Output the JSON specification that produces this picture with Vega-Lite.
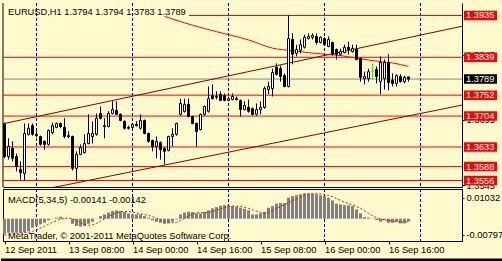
{
"$schema":"https://vega.github.io/schema/vega-lite/v6.json",
"padding":{"left":0,"top":2,"right":0,"bottom":0},
"background":"#FFFACD",
"bounds":"flush",
"spacing":2,
"config":{"font":"Liberation Sans","view":{"stroke":"black","strokeWidth":1},"scale":{"continuousPadding":0},"axis":{"labelFont":"Liberation Sans","labelFontSize":9.3,"labelColor":"black","domainColor":"black","tickColor":"black","grid":false,"title":null}},
"datasets":{
"bars":[
{"t":"2011-09-12T16:00Z","o":1.3685,"h":1.3689,"l":1.3607,"c":1.3611,"m":-0.0074,"s":-0.0080},
{"t":"2011-09-12T17:00Z","o":1.3611,"h":1.3653,"l":1.3604,"c":1.3634,"m":-0.0069,"s":-0.0078},
{"t":"2011-09-12T18:00Z","o":1.3630,"h":1.3646,"l":1.3600,"c":1.3607,"m":-0.0069,"s":-0.0075},
{"t":"2011-09-12T19:00Z","o":1.3611,"h":1.3618,"l":1.3577,"c":1.3588,"m":-0.0069,"s":-0.0072},
{"t":"2011-09-12T20:00Z","o":1.3581,"h":1.3600,"l":1.3558,"c":1.3574,"m":-0.0069,"s":-0.0070},
{"t":"2011-09-12T21:00Z","o":1.3572,"h":1.3687,"l":1.3556,"c":1.3664,"m":-0.0066,"s":-0.0068},
{"t":"2011-09-12T22:00Z","o":1.3662,"h":1.3687,"l":1.3659,"c":1.3676,"m":-0.0061,"s":-0.0067},
{"t":"2011-09-12T23:00Z","o":1.3682,"h":1.3687,"l":1.3659,"c":1.3662,"m":-0.0044,"s":-0.0062},
{"t":"2011-09-13T00:00Z","o":1.3662,"h":1.3669,"l":1.3655,"c":1.3659,"m":-0.0036,"s":-0.0055},
{"t":"2011-09-13T01:00Z","o":1.3657,"h":1.3659,"l":1.3636,"c":1.3639,"m":-0.0028,"s":-0.0046},
{"t":"2011-09-13T02:00Z","o":1.3646,"h":1.3648,"l":1.3627,"c":1.3639,"m":-0.0020,"s":-0.0038},
{"t":"2011-09-13T03:00Z","o":1.3639,"h":1.3673,"l":1.3636,"c":1.3671,"m":-0.0008,"s":-0.0027},
{"t":"2011-09-13T04:00Z","o":1.3666,"h":1.3689,"l":1.3662,"c":1.3682,"m":0.0001,"s":-0.0018},
{"t":"2011-09-13T05:00Z","o":1.3678,"h":1.3689,"l":1.3676,"c":1.3687,"m":0.0005,"s":-0.0010},
{"t":"2011-09-13T06:00Z","o":1.3687,"h":1.3689,"l":1.3676,"c":1.3680,"m":0.0010,"s":-0.0002},
{"t":"2011-09-13T07:00Z","o":1.3678,"h":1.3699,"l":1.3653,"c":1.3657,"m":0.0002,"s":0.0002},
{"t":"2011-09-13T08:00Z","o":1.3659,"h":1.3669,"l":1.3653,"c":1.3657,"m":0.0001,"s":0.0004},
{"t":"2011-09-13T09:00Z","o":1.3657,"h":1.3659,"l":1.3579,"c":1.3584,"m":-0.0025,"s":-0.0001},
{"t":"2011-09-13T10:00Z","o":1.3584,"h":1.3623,"l":1.3556,"c":1.3616,"m":-0.0036,"s":-0.0010},
{"t":"2011-09-13T11:00Z","o":1.3616,"h":1.3639,"l":1.3614,"c":1.3632,"m":-0.0039,"s":-0.0019},
{"t":"2011-09-13T12:00Z","o":1.3620,"h":1.3662,"l":1.3618,"c":1.3641,"m":-0.0036,"s":-0.0027},
{"t":"2011-09-13T13:00Z","o":1.3641,"h":1.3708,"l":1.3639,"c":1.3664,"m":-0.0025,"s":-0.0032},
{"t":"2011-09-13T14:00Z","o":1.3657,"h":1.3692,"l":1.3641,"c":1.3664,"m":-0.0015,"s":-0.0030},
{"t":"2011-09-13T15:00Z","o":1.3662,"h":1.3710,"l":1.3659,"c":1.3699,"m":0.0001,"s":-0.0023},
{"t":"2011-09-13T16:00Z","o":1.3710,"h":1.3726,"l":1.3696,"c":1.3699,"m":0.0013,"s":-0.0012},
{"t":"2011-09-13T17:00Z","o":1.3682,"h":1.3699,"l":1.3653,"c":1.3680,"m":0.0021,"s":-0.0001},
{"t":"2011-09-13T18:00Z","o":1.3680,"h":1.3715,"l":1.3678,"c":1.3710,"m":0.0030,"s":0.0010},
{"t":"2011-09-13T19:00Z","o":1.3710,"h":1.3738,"l":1.3708,"c":1.3719,"m":0.0038,"s":0.0021},
{"t":"2011-09-13T20:00Z","o":1.3717,"h":1.3738,"l":1.3708,"c":1.3708,"m":0.0041,"s":0.0029},
{"t":"2011-09-13T21:00Z","o":1.3708,"h":1.3710,"l":1.3692,"c":1.3694,"m":0.0038,"s":0.0034},
{"t":"2011-09-13T22:00Z","o":1.3692,"h":1.3694,"l":1.3673,"c":1.3676,"m":0.0033,"s":0.0036},
{"t":"2011-09-13T23:00Z","o":1.3678,"h":1.3682,"l":1.3673,"c":1.3676,"m":0.0026,"s":0.0035},
{"t":"2011-09-14T00:00Z","o":1.3678,"h":1.3689,"l":1.3676,"c":1.3685,"m":0.0021,"s":0.0032},
{"t":"2011-09-14T01:00Z","o":1.3685,"h":1.3692,"l":1.3680,"c":1.3682,"m":0.0021,"s":0.0028},
{"t":"2011-09-14T02:00Z","o":1.3676,"h":1.3708,"l":1.3673,"c":1.3694,"m":0.0021,"s":0.0024},
{"t":"2011-09-14T03:00Z","o":1.3694,"h":1.3696,"l":1.3662,"c":1.3664,"m":0.0013,"s":0.0020},
{"t":"2011-09-14T04:00Z","o":1.3664,"h":1.3666,"l":1.3643,"c":1.3646,"m":0.0005,"s":0.0016},
{"t":"2011-09-14T05:00Z","o":1.3648,"h":1.3650,"l":1.3623,"c":1.3634,"m":-0.0008,"s":0.0010},
{"t":"2011-09-14T06:00Z","o":1.3634,"h":1.3657,"l":1.3607,"c":1.3646,"m":-0.0015,"s":0.0003},
{"t":"2011-09-14T07:00Z","o":1.3643,"h":1.3646,"l":1.3604,"c":1.3627,"m":-0.0020,"s":-0.0005},
{"t":"2011-09-14T08:00Z","o":1.3630,"h":1.3632,"l":1.3593,"c":1.3623,"m":-0.0025,"s":-0.0013},
{"t":"2011-09-14T09:00Z","o":1.3625,"h":1.3659,"l":1.3623,"c":1.3657,"m":-0.0023,"s":-0.0018},
{"t":"2011-09-14T10:00Z","o":1.3657,"h":1.3676,"l":1.3634,"c":1.3662,"m":-0.0015,"s":-0.0020},
{"t":"2011-09-14T11:00Z","o":1.3662,"h":1.3689,"l":1.3659,"c":1.3687,"m":-0.0003,"s":-0.0017},
{"t":"2011-09-14T12:00Z","o":1.3708,"h":1.3744,"l":1.3705,"c":1.3733,"m":0.0021,"s":-0.0009},
{"t":"2011-09-14T13:00Z","o":1.3715,"h":1.3744,"l":1.3712,"c":1.3731,"m":0.0030,"s":0.0002},
{"t":"2011-09-14T14:00Z","o":1.3731,"h":1.3744,"l":1.3701,"c":1.3703,"m":0.0034,"s":0.0013},
{"t":"2011-09-14T15:00Z","o":1.3703,"h":1.3705,"l":1.3685,"c":1.3687,"m":0.0033,"s":0.0023},
{"t":"2011-09-14T16:00Z","o":1.3687,"h":1.3689,"l":1.3634,"c":1.3669,"m":0.0026,"s":0.0029},
{"t":"2011-09-14T17:00Z","o":1.3673,"h":1.3710,"l":1.3671,"c":1.3708,"m":0.0026,"s":0.0030},
{"t":"2011-09-14T18:00Z","o":1.3708,"h":1.3728,"l":1.3705,"c":1.3726,"m":0.0033,"s":0.0030},
{"t":"2011-09-14T19:00Z","o":1.3715,"h":1.3772,"l":1.3712,"c":1.3744,"m":0.0041,"s":0.0031},
{"t":"2011-09-14T20:00Z","o":1.3751,"h":1.3777,"l":1.3742,"c":1.3744,"m":0.0051,"s":0.0035},
{"t":"2011-09-14T21:00Z","o":1.3747,"h":1.3761,"l":1.3742,"c":1.3749,"m":0.0057,"s":0.0042},
{"t":"2011-09-14T22:00Z","o":1.3754,"h":1.3761,"l":1.3738,"c":1.3740,"m":0.0064,"s":0.0049},
{"t":"2011-09-14T23:00Z","o":1.3751,"h":1.3756,"l":1.3738,"c":1.3740,"m":0.0067,"s":0.0055},
{"t":"2011-09-15T00:00Z","o":1.3740,"h":1.3749,"l":1.3738,"c":1.3744,"m":0.0066,"s":0.0060},
{"t":"2011-09-15T01:00Z","o":1.3742,"h":1.3756,"l":1.3740,"c":1.3749,"m":0.0062,"s":0.0062},
{"t":"2011-09-15T02:00Z","o":1.3744,"h":1.3749,"l":1.3740,"c":1.3742,"m":0.0059,"s":0.0062},
{"t":"2011-09-15T03:00Z","o":1.3740,"h":1.3742,"l":1.3703,"c":1.3719,"m":0.0054,"s":0.0060},
{"t":"2011-09-15T04:00Z","o":1.3719,"h":1.3738,"l":1.3717,"c":1.3728,"m":0.0049,"s":0.0056},
{"t":"2011-09-15T05:00Z","o":1.3724,"h":1.3742,"l":1.3712,"c":1.3715,"m":0.0041,"s":0.0051},
{"t":"2011-09-15T06:00Z","o":1.3721,"h":1.3724,"l":1.3705,"c":1.3708,"m":0.0021,"s":0.0044},
{"t":"2011-09-15T07:00Z","o":1.3708,"h":1.3733,"l":1.3705,"c":1.3719,"m":0.0021,"s":0.0037},
{"t":"2011-09-15T08:00Z","o":1.3719,"h":1.3738,"l":1.3708,"c":1.3724,"m":0.0026,"s":0.0030},
{"t":"2011-09-15T09:00Z","o":1.3724,"h":1.3772,"l":1.3721,"c":1.3767,"m":0.0033,"s":0.0028},
{"t":"2011-09-15T10:00Z","o":1.3765,"h":1.3783,"l":1.3754,"c":1.3772,"m":0.0054,"s":0.0031},
{"t":"2011-09-15T11:00Z","o":1.3767,"h":1.3813,"l":1.3749,"c":1.3804,"m":0.0062,"s":0.0039},
{"t":"2011-09-15T12:00Z","o":1.3816,"h":1.3825,"l":1.3797,"c":1.3800,"m":0.0074,"s":0.0050},
{"t":"2011-09-15T13:00Z","o":1.3813,"h":1.3820,"l":1.3783,"c":1.3795,"m":0.0077,"s":0.0060},
{"t":"2011-09-15T14:00Z","o":1.3797,"h":1.3802,"l":1.3770,"c":1.3772,"m":0.0077,"s":0.0069},
{"t":"2011-09-15T15:00Z","o":1.3772,"h":1.3935,"l":1.3770,"c":1.3882,"m":0.0103,"s":0.0079},
{"t":"2011-09-15T16:00Z","o":1.3880,"h":1.3894,"l":1.3823,"c":1.3846,"m":0.0111,"s":0.0088},
{"t":"2011-09-15T17:00Z","o":1.3848,"h":1.3868,"l":1.3841,"c":1.3857,"m":0.0116,"s":0.0097},
{"t":"2011-09-15T18:00Z","o":1.3855,"h":1.3880,"l":1.3848,"c":1.3868,"m":0.0120,"s":0.0105},
{"t":"2011-09-15T19:00Z","o":1.3862,"h":1.3891,"l":1.3859,"c":1.3885,"m":0.0125,"s":0.0115},
{"t":"2011-09-15T20:00Z","o":1.3882,"h":1.3894,"l":1.3880,"c":1.3887,"m":0.0125,"s":0.0120},
{"t":"2011-09-15T21:00Z","o":1.3885,"h":1.3894,"l":1.3880,"c":1.3889,"m":0.0123,"s":0.0122},
{"t":"2011-09-15T22:00Z","o":1.3887,"h":1.3894,"l":1.3868,"c":1.3873,"m":0.0120,"s":0.0123},
{"t":"2011-09-15T23:00Z","o":1.3873,"h":1.3887,"l":1.3871,"c":1.3885,"m":0.0115,"s":0.0122},
{"t":"2011-09-16T00:00Z","o":1.3882,"h":1.3885,"l":1.3866,"c":1.3868,"m":0.0111,"s":0.0119},
{"t":"2011-09-16T01:00Z","o":1.3864,"h":1.3887,"l":1.3862,"c":1.3880,"m":0.0103,"s":0.0114},
{"t":"2011-09-16T02:00Z","o":1.3873,"h":1.3875,"l":1.3843,"c":1.3846,"m":0.0090,"s":0.0108},
{"t":"2011-09-16T03:00Z","o":1.3857,"h":1.3859,"l":1.3834,"c":1.3846,"m":0.0074,"s":0.0099},
{"t":"2011-09-16T04:00Z","o":1.3846,"h":1.3859,"l":1.3843,"c":1.3852,"m":0.0070,"s":0.0090},
{"t":"2011-09-16T05:00Z","o":1.3850,"h":1.3868,"l":1.3848,"c":1.3862,"m":0.0067,"s":0.0081},
{"t":"2011-09-16T06:00Z","o":1.3862,"h":1.3875,"l":1.3846,"c":1.3857,"m":0.0066,"s":0.0074},
{"t":"2011-09-16T07:00Z","o":1.3852,"h":1.3868,"l":1.3850,"c":1.3859,"m":0.0062,"s":0.0068},
{"t":"2011-09-16T08:00Z","o":1.3857,"h":1.3868,"l":1.3832,"c":1.3834,"m":0.0046,"s":0.0060},
{"t":"2011-09-16T09:00Z","o":1.3836,"h":1.3839,"l":1.3783,"c":1.3793,"m":0.0026,"s":0.0050},
{"t":"2011-09-16T10:00Z","o":1.3790,"h":1.3806,"l":1.3777,"c":1.3795,"m":0.0008,"s":0.0038},
{"t":"2011-09-16T11:00Z","o":1.3790,"h":1.3813,"l":1.3783,"c":1.3806,"m":0.0005,"s":0.0026},
{"t":"2011-09-16T12:00Z","o":1.3806,"h":1.3825,"l":1.3788,"c":1.3806,"m":0.0001,"s":0.0015},
{"t":"2011-09-16T13:00Z","o":1.3811,"h":1.3818,"l":1.3779,"c":1.3795,"m":-0.0007,"s":0.0005},
{"t":"2011-09-16T14:00Z","o":1.3783,"h":1.3841,"l":1.3754,"c":1.3827,"m":-0.0015,"s":-0.0002},
{"t":"2011-09-16T15:00Z","o":1.3790,"h":1.3834,"l":1.3765,"c":1.3827,"m":-0.0007,"s":-0.0006},
{"t":"2011-09-16T16:00Z","o":1.3827,"h":1.3846,"l":1.3763,"c":1.3781,"m":-0.0020,"s":-0.0009},
{"t":"2011-09-16T17:00Z","o":1.3786,"h":1.3802,"l":1.3772,"c":1.3779,"m":-0.0020,"s":-0.0012},
{"t":"2011-09-16T18:00Z","o":1.3779,"h":1.3800,"l":1.3772,"c":1.3797,"m":-0.0015,"s":-0.0014},
{"t":"2011-09-16T19:00Z","o":1.3795,"h":1.3800,"l":1.3781,"c":1.3783,"m":-0.0023,"s":-0.0016},
{"t":"2011-09-16T20:00Z","o":1.3783,"h":1.3797,"l":1.3779,"c":1.3793,"m":-0.0023,"s":-0.0017},
{"t":"2011-09-16T21:00Z","o":1.3794,"h":1.3794,"l":1.3783,"c":1.3789,"m":-0.00141,"s":-0.00142}
],
"levels":[
{"p":1.3839,"lbl":"1.3839","kind":"level"},
{"p":1.3752,"lbl":"1.3752","kind":"level"},
{"p":1.3704,"lbl":"1.3704","kind":"level"},
{"p":1.3633,"lbl":"1.3633","kind":"level"},
{"p":1.3588,"lbl":"1.3588","kind":"level"},
{"p":1.3556,"lbl":"1.3556","kind":"level"},
{"p":1.3789,"lbl":"1.3789","kind":"bid"}
],
"boxes":[
{"p":1.3935,"lbl":"1.3935","kind":"level"},
{"p":1.3839,"lbl":"1.3839","kind":"level"},
{"p":1.3752,"lbl":"1.3752","kind":"level"},
{"p":1.3704,"lbl":"1.3704","kind":"level"},
{"p":1.3633,"lbl":"1.3633","kind":"level"},
{"p":1.3588,"lbl":"1.3588","kind":"level"},
{"p":1.3556,"lbl":"1.3556","kind":"level"},
{"p":1.3789,"lbl":"1.3789","kind":"bid"}
],
"trend":[
{"id":"up","t":"2011-09-12T15:00Z","p":1.36851},
{"id":"up","t":"2011-09-17T11:00Z","p":1.39115},
{"id":"lo","t":"2011-09-13T04:00Z","p":1.35395},
{"id":"lo","t":"2011-09-17T11:00Z","p":1.37304}
],
"curve":[
{"t":"2011-09-14T08:00Z","p":1.3933},
{"t":"2011-09-14T12:00Z","p":1.3921},
{"t":"2011-09-14T18:00Z","p":1.3905},
{"t":"2011-09-15T00:00Z","p":1.3891},
{"t":"2011-09-15T05:00Z","p":1.3879},
{"t":"2011-09-15T11:00Z","p":1.3860},
{"t":"2011-09-15T16:00Z","p":1.3854},
{"t":"2011-09-16T00:00Z","p":1.3846},
{"t":"2011-09-16T04:00Z","p":1.3843},
{"t":"2011-09-16T08:00Z","p":1.3837},
{"t":"2011-09-16T14:00Z","p":1.3829},
{"t":"2011-09-16T17:00Z","p":1.3826},
{"t":"2011-09-16T21:00Z","p":1.3818}
],
"seps":[
{"t":"2011-09-13T00:00Z"},{"t":"2011-09-14T00:00Z"},{"t":"2011-09-15T00:00Z"},{"t":"2011-09-16T00:00Z"},{"t":"2011-09-17T00:00Z"}
]
},
"vconcat":[
{
"width":459,"height":184,
"view":{"stroke":null},
"layer":[
{"data":{"name":"seps"},"mark":{"type":"rule","color":"black","strokeWidth":1,"strokeDash":[3,2]},
 "encoding":{"x":{"field":"t","type":"temporal","scale":{"type":"utc","padding":0,"domain":[{"year":2011,"month":9,"date":12,"hours":15,"minutes":37,"seconds":30,"utc":true},{"year":2011,"month":9,"date":17,"hours":10,"minutes":22,"seconds":30,"utc":true}]},
  "axis":{"domain":true,"ticks":false,"labels":false}}}},
{"data":{"values":[{"a":1}]},"mark":{"type":"rule","color":"black","strokeWidth":1},
 "encoding":{"x":{"datum":{"year":2011,"month":9,"date":12,"hours":15,"minutes":37,"seconds":30,"utc":true},"type":"temporal"}}},
{"data":{"name":"levels"},"mark":{"type":"rule","strokeWidth":1},
 "encoding":{"y":{"field":"p","type":"quantitative","scale":{"domain":[1.354107,1.396371],"nice":false,"zero":false,"padding":0},
   "axis":{"orient":"right","values":[1.3545,1.362,1.3695,1.377,1.3845,1.392],"format":".4f","tickSize":3,"labelPadding":1}},
  "color":{"condition":{"test":"datum.kind=='bid'","value":"#778899"},"value":"#FF0000"}}},
{"data":{"values":[{"a":1}]},"mark":{"type":"rule","color":"#FF0000","strokeWidth":1},
 "encoding":{"y":{"datum":1.3935,"type":"quantitative"},
  "x":{"datum":{"year":2011,"month":9,"date":14,"hours":14,"minutes":7,"utc":true},"type":"temporal"},
  "x2":{"datum":{"year":2011,"month":9,"date":17,"hours":10,"minutes":22,"seconds":30,"utc":true}}}},
{"data":{"name":"trend"},"mark":{"type":"line","color":"#800000","strokeWidth":1,"clip":true},
 "encoding":{"x":{"field":"t","type":"temporal"},"y":{"field":"p","type":"quantitative"},"detail":{"field":"id"}}},
{"data":{"name":"curve"},"mark":{"type":"line","color":"#FF0000","strokeWidth":1,"interpolate":"monotone"},
 "encoding":{"x":{"field":"t","type":"temporal"},"y":{"field":"p","type":"quantitative"}}},
{"data":{"name":"bars"},"mark":{"type":"rule","strokeWidth":1},
 "encoding":{"x":{"field":"t","type":"temporal"},"y":{"field":"l","type":"quantitative"},"y2":{"field":"h"},
  "color":{"condition":{"test":"datum.o==datum.c","value":"#00FF00"},"value":"black"}}},
{"data":{"name":"bars"},"mark":{"type":"bar","width":2,"strokeWidth":1},
 "encoding":{"x":{"field":"t","type":"temporal"},"y":{"field":"o","type":"quantitative"},"y2":{"field":"c"},
  "fill":{"condition":{"test":"datum.c>datum.o","value":"white"},"value":"black"},
  "stroke":{"condition":{"test":"datum.o==datum.c","value":"#00FF00"},"value":"black"}}},
{"data":{"values":[{"txt":"EURUSD,H1  1.3794 1.3794 1.3783 1.3789"}]},"mark":{"type":"text","align":"left","baseline":"alphabetic","fontSize":9.3,"color":"black"},
 "encoding":{"x":{"datum":{"year":2011,"month":9,"date":12,"hours":16,"minutes":52,"utc":true},"type":"temporal"},"y":{"datum":1.3935,"type":"quantitative"},"text":{"field":"txt"}}},
{"data":{"name":"boxes"},"mark":{"type":"bar","orient":"horizontal","height":9.5},
 "encoding":{"y":{"field":"p","type":"quantitative"},
  "x":{"datum":{"year":2011,"month":9,"date":17,"hours":10,"minutes":52,"seconds":30,"utc":true},"type":"temporal"},
  "x2":{"datum":{"year":2011,"month":9,"date":17,"hours":19,"minutes":7,"seconds":30,"utc":true}},
  "color":{"condition":{"test":"datum.kind=='bid'","value":"black"},"value":"#FF0000"}}},
{"data":{"name":"boxes"},"mark":{"type":"text","align":"left","baseline":"middle","fontSize":9.3,"color":"white"},
 "encoding":{"y":{"field":"p","type":"quantitative"},
  "x":{"datum":{"year":2011,"month":9,"date":17,"hours":11,"minutes":22,"seconds":30,"utc":true},"type":"temporal"},
  "text":{"field":"lbl"}}}
]
},
{
"width":459,"height":52,
"layer":[
{"data":{"name":"seps"},"mark":{"type":"rule","color":"black","strokeWidth":1,"strokeDash":[3,2]},
 "encoding":{"x":{"field":"t","type":"temporal","scale":{"type":"utc","padding":0,"domain":[{"year":2011,"month":9,"date":12,"hours":15,"minutes":37,"seconds":30,"utc":true},{"year":2011,"month":9,"date":17,"hours":10,"minutes":22,"seconds":30,"utc":true}]},
   "axis":{"values":[{"year":2011,"month":9,"date":12,"hours":16,"utc":true},{"year":2011,"month":9,"date":13,"hours":8,"utc":true},{"year":2011,"month":9,"date":14,"hours":0,"utc":true},{"year":2011,"month":9,"date":14,"hours":16,"utc":true},{"year":2011,"month":9,"date":15,"hours":8,"utc":true},{"year":2011,"month":9,"date":16,"hours":0,"utc":true},{"year":2011,"month":9,"date":16,"hours":16,"utc":true}],
    "labelExpr":"datum.value < 1315850000000 ? '12 Sep 2011' : utcFormat(datum.value, '%d %b %H:%M')","labelAlign":"left","labelFlush":false,"labelOverlap":false,"tickSize":3,"labelPadding":1,"labelBaseline":"top"}}}},
{"data":{"name":"bars"},"mark":{"type":"bar","width":3,"color":"#808080"},
 "encoding":{"x":{"field":"t","type":"temporal"},"y":{"field":"m","type":"quantitative","scale":{"domain":[-0.010958,0.014595],"nice":false,"zero":false,"padding":0},
   "axis":{"orient":"right","values":[0.01032,0,-0.00797],"labelExpr":"datum.value > 0.005 ? '0.01032' : (datum.value < -0.005 ? '-0.00797' : '0.00')","tickSize":2,"labelPadding":2}},
  "y2":{"datum":0}}},
{"data":{"name":"bars"},"mark":{"type":"line","color":"#FF0000","strokeWidth":1,"strokeDash":[2,2]},
 "encoding":{"x":{"field":"t","type":"temporal"},"y":{"field":"s","type":"quantitative"}}},
{"data":{"values":[{"txt":"MACD(5,34,5) -0.00141 -0.00142","v":0.00786},{"txt":"MetaTrader, © 2001-2011 MetaQuotes Software Corp.","v":-0.0101}]},"mark":{"type":"text","align":"left","baseline":"alphabetic","fontSize":9.3,"color":"black"},
 "encoding":{"x":{"datum":{"year":2011,"month":9,"date":12,"hours":16,"minutes":52,"utc":true},"type":"temporal"},"y":{"field":"v","type":"quantitative"},"text":{"field":"txt"}}},
{"data":{"values":[{"a":1}]},"mark":{"type":"rect","color":"black"},
 "encoding":{"x":{"datum":{"year":2011,"month":9,"date":12,"hours":15,"minutes":7,"seconds":30,"utc":true},"type":"temporal"},
  "x2":{"datum":{"year":2011,"month":9,"date":17,"hours":20,"minutes":37,"seconds":30,"utc":true}},
  "y":{"datum":-0.019557,"type":"quantitative"},"y2":{"datum":-0.0225}}}
]
}
]
}
